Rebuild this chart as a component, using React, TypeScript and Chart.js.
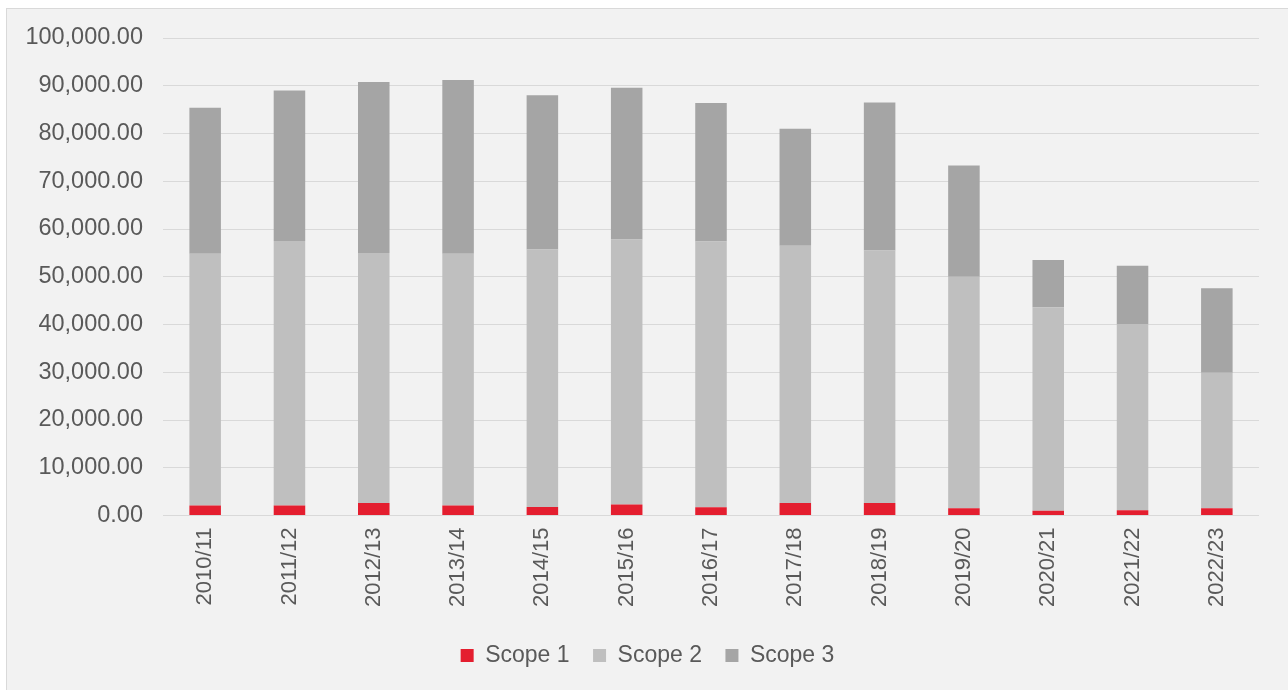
import React, { useEffect, useRef } from "react";
import { Chart, registerables } from "chart.js";

Chart.register(...registerables);

const categories = [
  "2010/11", "2011/12", "2012/13", "2013/14", "2014/15", "2015/16", "2016/17",
  "2017/18", "2018/19", "2019/20", "2020/21", "2021/22", "2022/23",
];
const scope1 = [2100, 2100, 2600, 2100, 1800, 2300, 1750, 2600, 2600, 1500, 1000, 1100, 1500];
const scope2 = [52700, 55400, 52400, 52700, 53900, 55500, 55650, 53900, 52900, 48500, 42600, 39000, 28400];
const scope3 = [30600, 31500, 35800, 36400, 32300, 31800, 29000, 24500, 31000, 23300, 9900, 12200, 17700];
const seriesNames = ["Scope 1", "Scope 2", "Scope 3"];
const seriesColors = ["#E41E2F", "#BFBFBF", "#A5A5A5"];
const yMax = 100000;
const yStep = 10000;

const FONT = "'Liberation Sans', Arial, sans-serif";
const TEXT = "#595959";

export default function App() {
  const ref = useRef<HTMLCanvasElement>(null);
  useEffect(() => {
    if (!ref.current) return;
    const values = [scope1, scope2, scope3];
    const chart = new Chart(ref.current, {
      type: "bar",
      data: {
        labels: categories,
        datasets: values.map((v, i) => ({
          label: seriesNames[i],
          data: v,
          backgroundColor: seriesColors[i],
          borderWidth: 0,
          categoryPercentage: 1,
          barPercentage: 0.374,
          yAxisID: "y",
        })),
      },
      options: {
        responsive: false,
        animation: false,
        devicePixelRatio: 1,
        layout: { padding: { top: 29, left: 0, right: 0, bottom: 13 } },
        plugins: {
          tooltip: { enabled: false },
          legend: {
            position: "bottom",
            labels: {
              boxWidth: 13,
              boxHeight: 13,
              padding: 23.5,
              color: TEXT,
              font: { family: FONT, size: 23 },
            },
          },
        },
        scales: {
          x: {
            stacked: true,
            grid: { display: false, drawTicks: false },
            border: { display: false },
            ticks: {
              color: TEXT,
              font: { family: FONT, size: 22 },
              minRotation: 90,
              maxRotation: 90,
              padding: 12,
              autoSkip: false,
            },
            afterFit: (s: any) => {
              s.height = 105;
            },
          },
          y: {
            stacked: true,
            min: 0,
            max: yMax,
            position: "left",
            grid: { color: "#D9D9D9", lineWidth: 1, drawTicks: false },
            border: { display: false },
            ticks: {
              stepSize: yStep,
              color: TEXT,
              padding: 20,
              font: { family: FONT, size: 23.5 },
              callback: (v: any) =>
                Number(v).toLocaleString("en-US", { minimumFractionDigits: 2, maximumFractionDigits: 2 }),
            },
            afterFit: (s: any) => {
              s.width = 156;
              s.paddingTop = 0;
              s.paddingBottom = 0;
            },
          },
          yRight: {
            position: "right",
            display: true,
            min: 0,
            max: yMax,
            grid: { display: false, drawTicks: false },
            border: { display: false },
            ticks: { display: false },
            afterFit: (s: any) => {
              s.width = 29;
              s.paddingTop = 0;
              s.paddingBottom = 0;
            },
          },
        },
      },
    });
    return () => chart.destroy();
  }, []);

  return (
    <div
      style={{
        position: "absolute",
        left: 6,
        top: 8,
        width: 1281,
        height: 681,
        borderLeft: "1px solid #D9D9D9",
        borderTop: "1px solid #D9D9D9",
        background: "#F2F2F2",
        overflow: "hidden",
      }}
    >
      <canvas ref={ref} width={1281} height={681} style={{ display: "block" }} />
    </div>
  );
}
